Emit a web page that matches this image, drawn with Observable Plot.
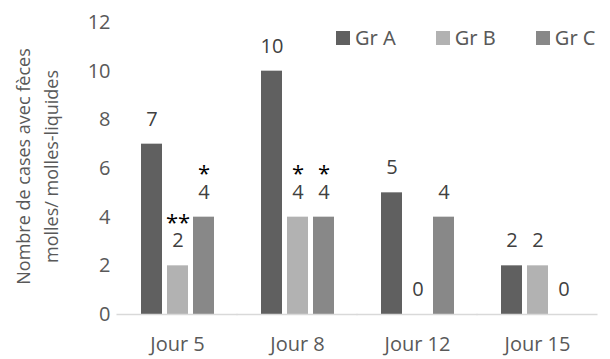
<!DOCTYPE html>
<html>
<head>
<meta charset="utf-8">
<script src="https://cdn.jsdelivr.net/npm/d3@7"></script>
<script src="https://cdn.jsdelivr.net/npm/@observablehq/plot@0.6"></script>
<style>
  html, body { margin: 0; padding: 0; background: #fff; }
  #chart { position: relative; width: 610px; height: 359px; font-family: "Open Sans", sans-serif; }
  #legend { position: absolute; top: 21px; left: 336px; width: 274px; white-space: nowrap; }
  #legend > div { flex-wrap: nowrap !important; white-space: nowrap; }
  #legend [class$="-swatch"] { margin-right: 40px; font-size: 20px; color: #595959; }
  #legend [class$="-swatch"] svg { margin-right: 5px; }
</style>
</head>
<body>
<div id="chart"><div id="legend"></div></div>
<script>
const jours = ["Jour 5", "Jour 8", "Jour 12", "Jour 15"];
const groups = ["Gr A", "Gr B", "Gr C"];
const grA = [7, 10, 5, 2];
const grB = [2, 4, 0, 2];
const grC = [4, 4, 4, 0];
const colors = ["#606060", "#b2b2b2", "#888888"];
const yTicks = [0, 2, 4, 6, 8, 10, 12];
const yLabel = "Nombre de cases avec fèces\nmolles/ molles-liquides";
// significance marks: [jour, group, stars]
const stars = [
  ["Jour 5", "Gr B", "**"],
  ["Jour 5", "Gr C", "*"],
  ["Jour 8", "Gr B", "*"],
  ["Jour 8", "Gr C", "*"]
];

const series = [grA, grB, grC];
const data = [];
jours.forEach((j, i) => groups.forEach((g, k) => data.push({jour: j, group: g, value: series[k][i]})));
const starData = stars.map(([j, g, s]) => ({jour: j, group: g, stars: s, value: series[groups.indexOf(g)][jours.indexOf(j)]}));

const chart = Plot.plot({
  width: 610,
  height: 359,
  marginTop: 22,
  marginBottom: 45,
  marginLeft: 117,
  marginRight: 13,
  style: {fontFamily: "Open Sans, sans-serif", fontSize: "20px", color: "#595959", background: "#fff"},
  fx: {domain: jours, paddingInner: 0.38, paddingOuter: 0.19, label: null},
  x: {domain: groups, paddingInner: 0.2, paddingOuter: 0, axis: null},
  y: {domain: [0, 12]},
  color: {domain: groups, range: colors},
  marks: [
    Plot.barY(data, {fx: "jour", x: "group", y: "value", fill: "group"}),
    Plot.ruleY([0], {stroke: "#d9d9d9", strokeWidth: 1.5, insetLeft: -23.5, insetRight: -23.5}),
    Plot.text(data, {fx: "jour", x: "group", y: "value", text: d => String(d.value), dy: -25, fill: "#404040", fontSize: 20}),
    Plot.text(starData, {fx: "jour", x: "group", y: "value", text: "stars", dy: -43, fill: "#000", fontSize: 22}),
    Plot.axisY({ticks: yTicks, tickSize: 0, tickPadding: 30, fontSize: 20, label: null}),
    Plot.text([yLabel], {facet: "super", frameAnchor: "left", rotate: -90, textAnchor: "middle", lineAnchor: "middle", lineHeight: 1.55, dx: -105, dy: -2, fontSize: 18, fill: "#595959"}),
    Plot.axisFx({anchor: "bottom", tickSize: 0, tickPadding: 22, label: null, fontSize: 20})
  ]
});
document.getElementById("chart").prepend(chart);

const legend = Plot.legend({color: {domain: groups, range: colors}, swatchSize: 14, swatchWidth: 14, swatchHeight: 14});
document.getElementById("legend").appendChild(legend);
</script>
</body>
</html>
